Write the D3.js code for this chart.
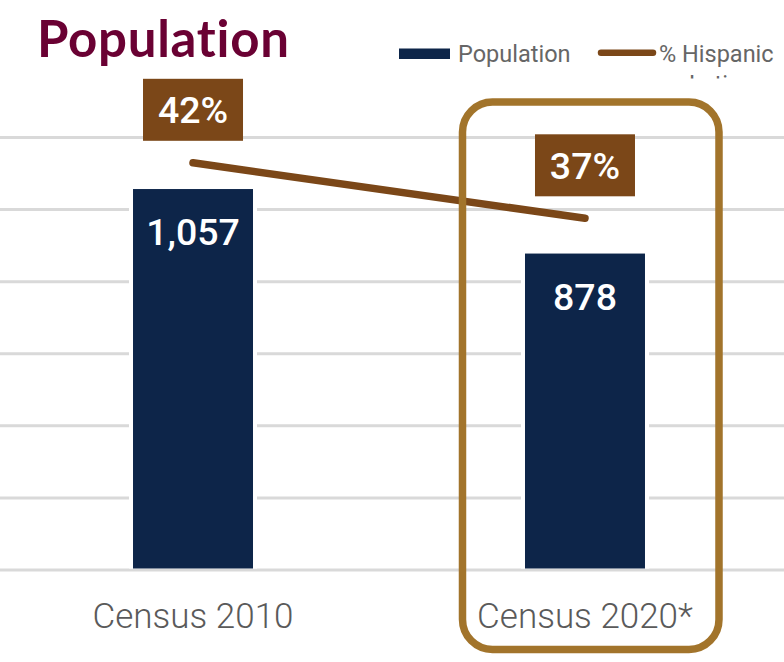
<!DOCTYPE html>
<html>
<head>
<meta charset="utf-8">
<script src="https://cdn.jsdelivr.net/npm/d3@7"></script>
<style>
  html, body { margin: 0; padding: 0; background: #ffffff; }
  svg { display: block; }
  text { font-variant-ligatures: none; font-feature-settings: "liga" 0; }
</style>
</head>
<body>
<div id="chart"></div>
<script>
// Census population counts with the Hispanic/Latino share overlaid
const categories = ["Census 2010", "Census 2020*"];
const population = [1057, 878];
const hispanicShare = [0.42, 0.37];
const yTicks = [0, 200, 400, 600, 800, 1000, 1200];
const legendLabels = ["Population", "% Hispanic", "Latino"];

const W = 784, H = 662;
const navy = "#0d2549";
const brown = "#7b4718";
const gold = "#a2742b";
const grid = "#d9d9d9";
const grey = "#5a5a5a";

const svg = d3.select("#chart").append("svg")
  .attr("width", W).attr("height", H);

const x = d3.scaleBand().domain(categories)
  .range([-3, 781]).paddingInner(0.6939).paddingOuter(0.347);
const y = d3.scaleLinear().domain([0, 1200]).range([570, 137.5]);
const y2 = d3.scaleLinear().domain([0, 0.5]).range([629, 74]);

// horizontal gridlines
svg.append("g").selectAll("line").data(yTicks).join("line")
  .attr("x1", 0).attr("x2", W)
  .attr("y1", d => y(d)).attr("y2", d => y(d))
  .attr("stroke", grid).attr("stroke-width", 3);

// white halo behind bars so the gridlines stop short of them
const halo = 4;
svg.append("g").selectAll("rect").data(population).join("rect")
  .attr("x", (d, i) => x(categories[i]) - halo)
  .attr("y", d => y(d) - halo)
  .attr("width", x.bandwidth() + 2 * halo)
  .attr("height", d => y(0) - y(d) + halo - 1.5)
  .attr("fill", "#ffffff");

// bars
svg.append("g").selectAll("rect").data(population).join("rect")
  .attr("x", (d, i) => x(categories[i]))
  .attr("y", d => y(d))
  .attr("width", x.bandwidth())
  .attr("height", d => y(0) - y(d) - 1.5)
  .attr("fill", navy);

// bar value labels
const fmt = d3.format(",");
svg.append("g").selectAll("text").data(population).join("text")
  .attr("x", (d, i) => x(categories[i]) + x.bandwidth() / 2)
  .attr("y", d => y(d) + 56)
  .attr("text-anchor", "middle")
  .attr("font-family", "Roboto, sans-serif")
  .attr("font-weight", 500)
  .attr("font-size", 37.5)
  .attr("fill", "#ffffff")
  .text(d => fmt(d));

// Hispanic share line
const cx = (d, i) => x(categories[i]) + x.bandwidth() / 2;
const line = d3.line().x(cx).y(d => y2(d));
svg.append("path").datum(hispanicShare)
  .attr("d", line)
  .attr("fill", "none")
  .attr("stroke", brown)
  .attr("stroke-width", 7.5)
  .attr("stroke-linecap", "round");

// share labels in boxes above the line
const boxW = 100, boxH = 62;
const shareLabels = svg.append("g").selectAll("g").data(hispanicShare).join("g")
  .attr("transform", (d, i) => `translate(${cx(d, i)},${y2(d) - 84})`);
shareLabels.append("rect")
  .attr("x", -boxW / 2).attr("y", 0)
  .attr("width", boxW).attr("height", boxH)
  .attr("fill", brown);
shareLabels.append("text")
  .attr("x", 0).attr("y", 44.5)
  .attr("text-anchor", "middle")
  .attr("font-family", "Roboto, sans-serif")
  .attr("font-weight", 500)
  .attr("font-size", 37.5)
  .attr("fill", "#ffffff")
  .text(d => d3.format(".0%")(d));

// category axis labels
svg.append("g").selectAll("text").data(categories).join("text")
  .attr("x", d => x(d) + x.bandwidth() / 2)
  .attr("y", 628)
  .attr("text-anchor", "middle")
  .attr("font-family", "Roboto, sans-serif")
  .attr("font-weight", 300)
  .attr("font-size", 35)
  .attr("fill", grey)
  .text(d => d);

// highlight frame around the latest census
const last = categories[categories.length - 1];
svg.append("rect")
  .attr("x", x(last) - 62.5)
  .attr("y", y(1200) - 35.5)
  .attr("width", 256.5)
  .attr("height", 547.5)
  .attr("rx", 30).attr("ry", 30)
  .attr("fill", "none")
  .attr("stroke", gold)
  .attr("stroke-width", 7.5);

// title
svg.append("text")
  .attr("x", 37).attr("y", 57)
  .attr("font-family", "Lato, sans-serif")
  .attr("font-weight", 700)
  .attr("font-size", 51)
  .attr("letter-spacing", 0.7)
  .style("font-variant-ligatures", "none")
  .attr("fill", "#6a0133")
  .text("Population");

// legend
const legend = svg.append("g");
legend.append("rect")
  .attr("x", 399).attr("y", 48.5).attr("width", 51).attr("height", 10.5)
  .attr("fill", navy);
legend.append("text")
  .attr("x", 458).attr("y", 62)
  .attr("font-family", "Roboto, sans-serif")
  .attr("font-size", 23.5)
  .attr("fill", "#666666")
  .text(legendLabels[0]);
legend.append("line")
  .attr("x1", 601).attr("x2", 653).attr("y1", 52.7).attr("y2", 52.7)
  .attr("stroke", brown).attr("stroke-width", 6.5)
  .attr("stroke-linecap", "round");
legend.append("text")
  .attr("x", 659).attr("y", 62)
  .attr("font-family", "Roboto, sans-serif")
  .attr("font-size", 23.5)
  .attr("fill", "#666666")
  .text(legendLabels[1]);

// second legend line is cut off by the legend box
svg.append("clipPath").attr("id", "legend-clip")
  .append("rect").attr("x", 600).attr("y", 0).attr("width", 184).attr("height", 78.5);
legend.append("text")
  .attr("clip-path", "url(#legend-clip)")
  .attr("x", 689).attr("y", 92)
  .attr("font-family", "Roboto, sans-serif")
  .attr("font-size", 23.5)
  .attr("fill", "#666666")
  .text(legendLabels[2]);
</script>
</body>
</html>
